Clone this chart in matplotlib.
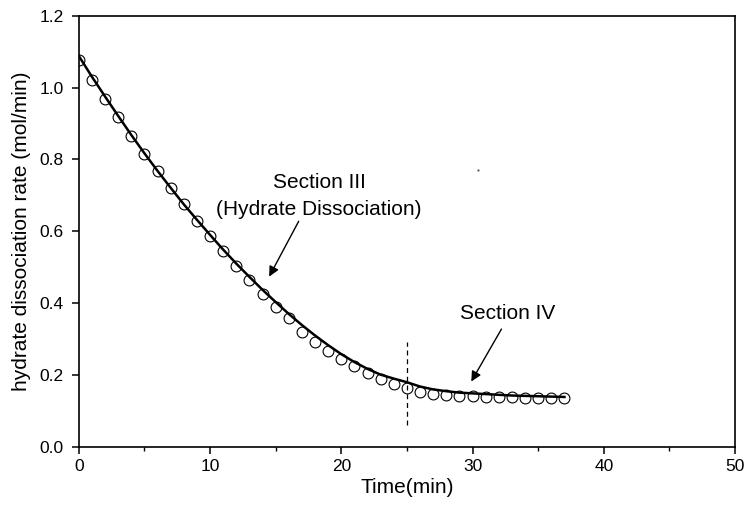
import matplotlib
matplotlib.use("Agg")
import matplotlib.pyplot as plt
from matplotlib.ticker import MultipleLocator

plt.rcParams['font.family'] = ['Liberation Sans', 'DejaVu Sans']

# measured data (circles)
time_pts = list(range(0, 38))
rate_pts = [1.078, 1.022, 0.969, 0.918, 0.866, 0.816, 0.769, 0.722, 0.677, 0.630,
            0.588, 0.546, 0.504, 0.465, 0.426, 0.390, 0.358, 0.321, 0.293, 0.267,
            0.244, 0.224, 0.205, 0.189, 0.175, 0.163, 0.154, 0.148, 0.145, 0.143,
            0.142, 0.140, 0.139, 0.138, 0.137, 0.136, 0.136, 0.135]

# fitted curve (solid line)
time_fit = [0, 1, 2, 3, 4, 5, 6, 7, 8, 9, 10, 11, 12, 13, 14, 15, 16, 17, 18, 19,
            20, 21, 22, 23, 24, 25, 26, 27, 28, 29, 30, 31, 32, 33, 34, 35, 36, 37]
rate_fit = [1.088, 1.030, 0.975, 0.921, 0.868, 0.817, 0.768, 0.721, 0.675, 0.632,
            0.590, 0.549, 0.510, 0.473, 0.437, 0.403, 0.370, 0.339, 0.310, 0.283,
            0.258, 0.236, 0.217, 0.201, 0.190, 0.180, 0.168, 0.160, 0.155, 0.151,
            0.149, 0.147, 0.145, 0.143, 0.142, 0.141, 0.140, 0.139]

divider_x = 25
divider_y = [0.061, 0.293]

fig = plt.figure(figsize=(7.44, 5.09), dpi=100)
ax = fig.add_axes([0.106, 0.122, 0.882, 0.847])

ax.plot(time_fit, rate_fit, color='black', lw=1.8, zorder=3)
ax.plot(time_pts, rate_pts, linestyle='none', marker='o', ms=7.8, mfc='none',
        mec='black', mew=0.8, zorder=4)
ax.plot([divider_x, divider_x], divider_y, color='black', lw=0.9,
        linestyle=(0, (4, 3)))
ax.plot([30.45], [0.772], marker='.', ms=1.2, color='#555555')

ax.set_xlim(0, 50)
ax.set_ylim(0, 1.2)
ax.xaxis.set_major_locator(MultipleLocator(10))
ax.xaxis.set_minor_locator(MultipleLocator(5))
ax.set_yticks([0, 0.2, 0.4, 0.6, 0.8, 1.0, 1.2])
ax.set_yticklabels(['0.0', '0.2', '0.4', '0.6', '0.8', '1.0', '1.2'])
ax.tick_params(which='major', direction='out', length=5, width=1.1,
               labelsize=12.5, top=False, right=False)
ax.tick_params(axis='y', which='major', pad=6)
ax.tick_params(which='minor', direction='out', length=3, width=1.0,
               top=False, right=False)
for s in ax.spines.values():
    s.set_linewidth(1.2)

ax.set_xlabel('Time(min)', fontsize=15, labelpad=3)
ax.set_ylabel('hydrate dissociation rate (mol/min)', fontsize=15, labelpad=6)

ax.text(18.3, 0.735, 'Section III', ha='center', va='center', fontsize=15)
ax.text(18.3, 0.660, '(Hydrate Dissociation)', ha='center', va='center', fontsize=15)
ax.annotate('', xy=(14.5, 0.474), xytext=(16.75, 0.628),
            arrowprops=dict(arrowstyle='-|>', color='black', lw=1.0,
                            mutation_scale=15, shrinkA=0, shrinkB=0))
ax.text(32.7, 0.371, 'Section IV', ha='center', va='center', fontsize=15)
ax.annotate('', xy=(29.9, 0.182), xytext=(32.2, 0.328),
            arrowprops=dict(arrowstyle='-|>', color='black', lw=1.0,
                            mutation_scale=15, shrinkA=0, shrinkB=0))

fig.savefig('out.png', dpi=100)
